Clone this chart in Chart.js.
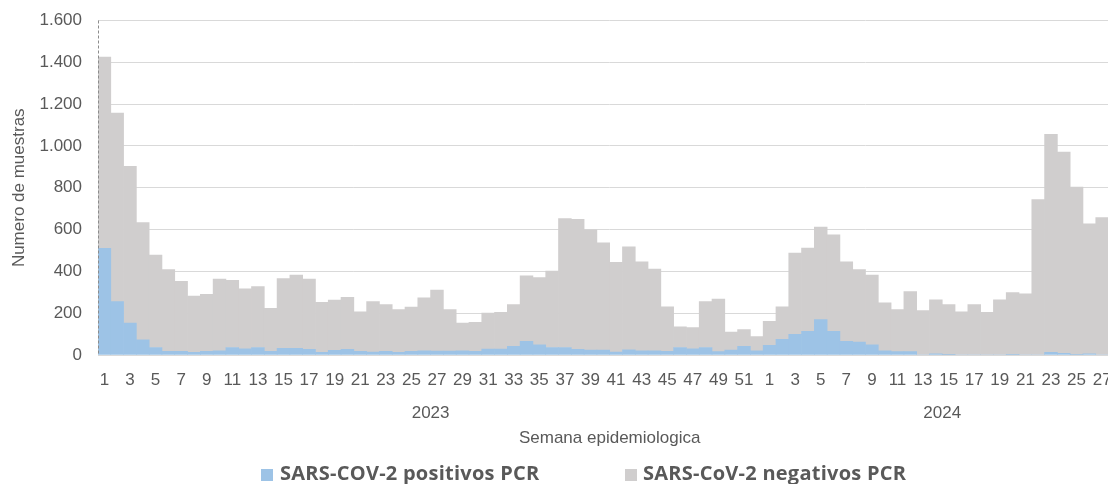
<!DOCTYPE html>
<html>
<head>
<meta charset="utf-8">
<script src="https://cdn.jsdelivr.net/npm/chart.js@4.4.1/dist/chart.umd.min.js"></script>
<style>
  html, body { margin: 0; padding: 0; background: #fff; overflow: hidden; width: 1108px; height: 484px; }
  #wrap { position: relative; width: 1130px; height: 484px; }
  canvas { position: absolute; left: 0; top: 0; }
  .leg { position: absolute; font-family: "Open Sans", sans-serif; font-weight: bold; font-size: 20px; letter-spacing: 0.25px; color: #595959; line-height: 20px; white-space: nowrap; }
  .sw { position: absolute; width: 12px; height: 12px; }
</style>
</head>
<body>
<div id="wrap">
  <canvas id="c" width="1130" height="484"></canvas>
  <div class="sw" style="left:261px; top:469px; background:#9DC3E6"></div>
  <div class="leg" style="left:280px; top:463px;">SARS-COV-2 positivos PCR</div>
  <div class="sw" style="left:625px; top:469px; background:#D0CECE"></div>
  <div class="leg" style="left:643px; top:463px;">SARS-CoV-2 negativos PCR</div>
</div>
<script>
// ---- data ----
const years = ['2023', '2024'];
const weeks2023 = ['1','2','3','4','5','6','7','8','9','10','11','12','13','14','15','16','17','18','19','20','21','22','23','24','25','26','27','28','29','30','31','32','33','34','35','36','37','38','39','40','41','42','43','44','45','46','47','48','49','50','51','52'];
const weeks2024 = ['1','2','3','4','5','6','7','8','9','10','11','12','13','14','15','16','17','18','19','20','21','22','23','24','25','26','27','28'];

const positivos2023 = [510,255,153,73,36,17,17,13,17,20,36,30,36,17,32,32,27,13,22,27,17,14,17,13,17,20,19,19,20,17,28,28,41,65,49,36,36,27,24,24,14,25,20,20,17,36,30,36,16,24,41,20];
const negativos2023 = [915,902,749,560,442,391,335,269,273,343,321,286,291,206,334,350,336,239,241,249,189,242,224,204,212,254,292,198,133,139,173,176,200,314,321,366,616,622,575,512,429,493,426,391,214,99,101,219,252,86,81,68];
const positivos2024 = [46,75,99,113,169,113,65,62,49,20,16,16,0,5,2,0,0,0,0,3,0,0,13,8,3,6,0,0];
const negativos2024 = [115,156,389,399,443,462,381,346,333,230,201,287,213,259,239,207,241,204,264,295,293,744,1042,963,800,622,657,519];

const yTicks = [0,200,400,600,800,1000,1200,1400,1600];

// ---- build ----
const labels = weeks2023.concat(weeks2024);
const positivos = positivos2023.concat(positivos2024);
const negativos = negativos2023.concat(negativos2024);
const yearCenters = [
  (weeks2023.length - 1) / 2,
  weeks2023.length + (weeks2024.length - 1) / 2
];

const TXT = '#595959';
const FONT = 'Liberation Sans, Arial, sans-serif';

// dashed vertical value-axis line (as in the reference)
const dashedAxis = {
  id: 'dashedAxis',
  afterDatasetsDraw(chart) {
    const { ctx, chartArea } = chart;
    ctx.save();
    ctx.strokeStyle = '#8c8c8c';
    ctx.lineWidth = 1;
    ctx.setLineDash([3, 2]);
    ctx.beginPath();
    const x = Math.round(chartArea.left) + 0.5;
    ctx.moveTo(x, chartArea.top);
    ctx.lineTo(x, chartArea.bottom);
    ctx.stroke();
    ctx.restore();
  }
};

new Chart(document.getElementById('c'), {
  type: 'bar',
  data: {
    labels: labels,
    datasets: [
      { label: 'SARS-COV-2 positivos PCR', data: positivos, backgroundColor: '#9DC3E6', borderWidth: 0, barPercentage: 1, categoryPercentage: 1 },
      { label: 'SARS-CoV-2 negativos PCR', data: negativos, backgroundColor: '#D0CECE', borderWidth: 0, barPercentage: 1, categoryPercentage: 1 }
    ]
  },
  plugins: [dashedAxis],
  options: {
    responsive: false,
    animation: false,
    devicePixelRatio: 1,
    layout: { padding: { top: 0, right: 8, left: 0, bottom: 35 } },
    plugins: { legend: { display: false }, tooltip: { enabled: false } },
    scales: {
      x: {
        stacked: true,
        weight: 0,
        grid: { display: false, drawTicks: false },
        border: { display: true, color: '#d9d9d9' },
        afterFit: function (scale) { scale.height = 36; },
        ticks: {
          autoSkip: false, maxRotation: 0, minRotation: 0,
          color: TXT, font: { family: FONT, size: 17 }, padding: 15,
          callback: function (v, i) { return i % 2 === 0 ? this.getLabelForValue(v) : ''; }
        }
      },
      x2: {
        type: 'linear',
        position: 'bottom',
        weight: 1,
        offset: false,
        min: -0.5,
        max: labels.length - 0.5,
        grid: { display: false, drawTicks: false, offset: false },
        border: { display: false },
        afterBuildTicks: function (scale) { scale.ticks = yearCenters.map(v => ({ value: v })); },
        afterFit: function (scale) { scale.height = 58; },
        ticks: {
          maxRotation: 0, minRotation: 0, autoSkip: false,
          color: TXT, font: { family: FONT, size: 17 }, padding: 12,
          callback: function (v) { const i = yearCenters.indexOf(v); return i >= 0 ? years[i] : ''; }
        },
        title: { display: true, text: 'Semana epidemiologica', color: TXT, font: { family: FONT, size: 17 }, padding: { top: 4, bottom: 0 } }
      },
      y: {
        stacked: true,
        min: 0, max: 1600,
        afterBuildTicks: function (scale) { scale.ticks = yTicks.map(v => ({ value: v })); },
        afterFit: function (scale) { scale.width = 98; scale.paddingTop = 20.5; scale.paddingBottom = 10; },
        grid: { color: '#d9d9d9', lineWidth: 1, drawTicks: false },
        border: { display: false },
        ticks: {
          color: TXT, font: { family: FONT, size: 17 }, padding: 16,
          callback: function (v) { return v.toString().replace(/\B(?=(\d{3})+(?!\d))/g, '.'); }
        },
        title: { display: true, text: 'Numero de muestras', color: TXT, font: { family: FONT, size: 17 }, padding: { top: 9, bottom: 0 } }
      }
    }
  }
});
</script>
</body>
</html>
